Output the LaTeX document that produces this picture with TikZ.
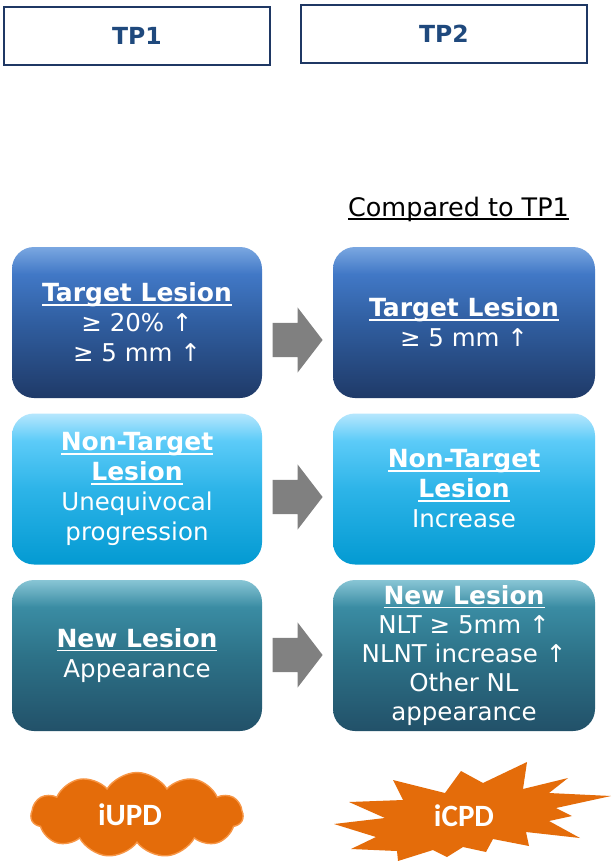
\documentclass[tikz,border=0pt]{standalone}
\usepackage{fontspec}
\setmainfont{DejaVu Sans}
\newfontfamily\calib{Carlito}
\usetikzlibrary{shapes.symbols,shapes.arrows}

% colours
\definecolor{navy}{HTML}{1F3864}
\definecolor{tptext}{HTML}{1F497D}
\definecolor{arrowgray}{HTML}{808080}
\definecolor{burst}{HTML}{E46C0A}
\definecolor{burstline}{HTML}{F79646}
\definecolor{aT}{HTML}{7AA7E1}\definecolor{aU}{HTML}{4178C6}
\definecolor{aM}{HTML}{305EA0}\definecolor{aB}{HTML}{1F3A68}
\definecolor{bT}{HTML}{B6E7FD}\definecolor{bU}{HTML}{5CCBF8}
\definecolor{bM}{HTML}{2DB4E8}\definecolor{bB}{HTML}{039AD2}
\definecolor{cT}{HTML}{88C5D5}\definecolor{cU}{HTML}{3A8CA3}
\definecolor{cM}{HTML}{2D7288}\definecolor{cB}{HTML}{225169}

% vertical fills of the three rows (box spans 25bp..75bp)
\pgfdeclareverticalshading{rowblue}{100bp}{color(0bp)=(aB);color(25bp)=(aB);color(50bp)=(aM);color(66bp)=(aU);color(75bp)=(aT);color(100bp)=(aT)}
\pgfdeclareverticalshading{rowsky}{100bp}{color(0bp)=(bB);color(25bp)=(bB);color(50bp)=(bM);color(66bp)=(bU);color(75bp)=(bT);color(100bp)=(bT)}
\pgfdeclareverticalshading{rowteal}{100bp}{color(0bp)=(cB);color(25bp)=(cB);color(50bp)=(cM);color(66bp)=(cU);color(75bp)=(cT);color(100bp)=(cT)}

% thick underline
\newcommand\uln[1]{\setbox0\hbox{#1}\rlap{\rule[-4pt]{\wd0}{1.8pt}}\box0}
% bold underlined heading inside a box
\newcommand\hd[1]{\uln{\fontsize{25}{30}\selectfont\bfseries #1}}

\tikzset{
  header/.style={draw=navy, line width=1.4pt, fill=white, text=tptext,
    font=\fontsize{23.5}{27}\selectfont\bfseries},
  lesionbox/.style={rounded corners=22pt, minimum width=250pt, minimum height=151pt,
    inner sep=0pt, text=white, align=center,
    font=\fontsize{24.5}{30}\selectfont},
  blockarrow/.style={single arrow, fill=arrowgray, draw=none, inner sep=0pt,
    minimum height=50pt, minimum width=65pt, single arrow head extend=15.5pt,
    single arrow tip angle=105, text height=34pt},
  verdict/.style={text=white, font=\calib\fontsize{31}{34}\selectfont\bfseries}
}

\begin{document}
\begin{tikzpicture}[x=1pt,y=-1pt]
\useasboundingbox (0,0) rectangle (611,861);
\fill[white] (0,0) rectangle (611,861);

% time-point headers
\node[header, minimum width=266pt, minimum height=58pt] (tp1) at (137,36) {TP1};
\node[header, minimum width=286pt, minimum height=58pt] (tp2) at (444,34) {TP2};

\node[font=\fontsize{25.5}{30}\selectfont, text=black] (cmp) at (458.5,209) {\uln{Compared to TP1}};

% row 1: target lesion
\node[lesionbox, shading=rowblue] (t1) at (137,322.5)
  {\hd{Target Lesion}\\ ≥ 20\% ↑\\ ≥ 5 mm ↑};
\node[lesionbox, shading=rowblue, minimum width=262pt] (t2) at (464,322.5)
  {\hd{Target Lesion}\\ ≥ 5 mm ↑};

% row 2: non-target lesion
\node[lesionbox, shading=rowsky] (n1) at (137,489)
  {\hd{Non-Target}\\ \hd{Lesion}\\ Unequivocal\\ progression};
\node[lesionbox, shading=rowsky, minimum width=262pt] (n2) at (464,489)
  {\hd{Non-Target}\\ \hd{Lesion}\\ Increase};

% row 3: new lesion
\node[lesionbox, shading=rowteal] (l1) at (137,655.5)
  {\hd{New Lesion}\\ Appearance};
\node[lesionbox, shading=rowteal, minimum width=262pt,
      font=\fontsize{24.5}{29}\selectfont] (l2) at (464,655.5)
  {\hd{New Lesion}\\ NLT ≥ 5mm ↑\\ NLNT increase ↑\\ Other NL\\ appearance};

% block arrows between the columns
\node[blockarrow] (a1) at (291,340) {};
\node[blockarrow] (a2) at (291,497) {};
\node[blockarrow] (a3) at (291,655) {};

% outcomes
\node[cloud, cloud puffs=11, cloud puff arc=115, aspect=2.6, fill=burst,
      draw=burstline, line width=1.4pt, minimum width=212pt, minimum height=85pt]
      (cloudshape) at (137,815) {};
\node[verdict] (iupd) at (130,815) {iUPD};

\fill[burst] (393,780) -- (445,793) -- (461,771) -- (483,783) -- (527,762)
  -- (523,789) -- (568,778) -- (549,793) -- (611,796) -- (556,808)
  -- (572,816) -- (549,821) -- (580,838) -- (526,832) -- (529,846)
  -- (493,839) -- (486,852) -- (463,847) -- (447,857) -- (433,850)
  -- (398,861) -- (397,851) -- (351,849) -- (376,837) -- (334,824)
  -- (385,818) -- (349,802) -- (403,800) -- cycle;
\node[verdict] (icpd) at (464,816) {iCPD};
\end{tikzpicture}
\end{document}
